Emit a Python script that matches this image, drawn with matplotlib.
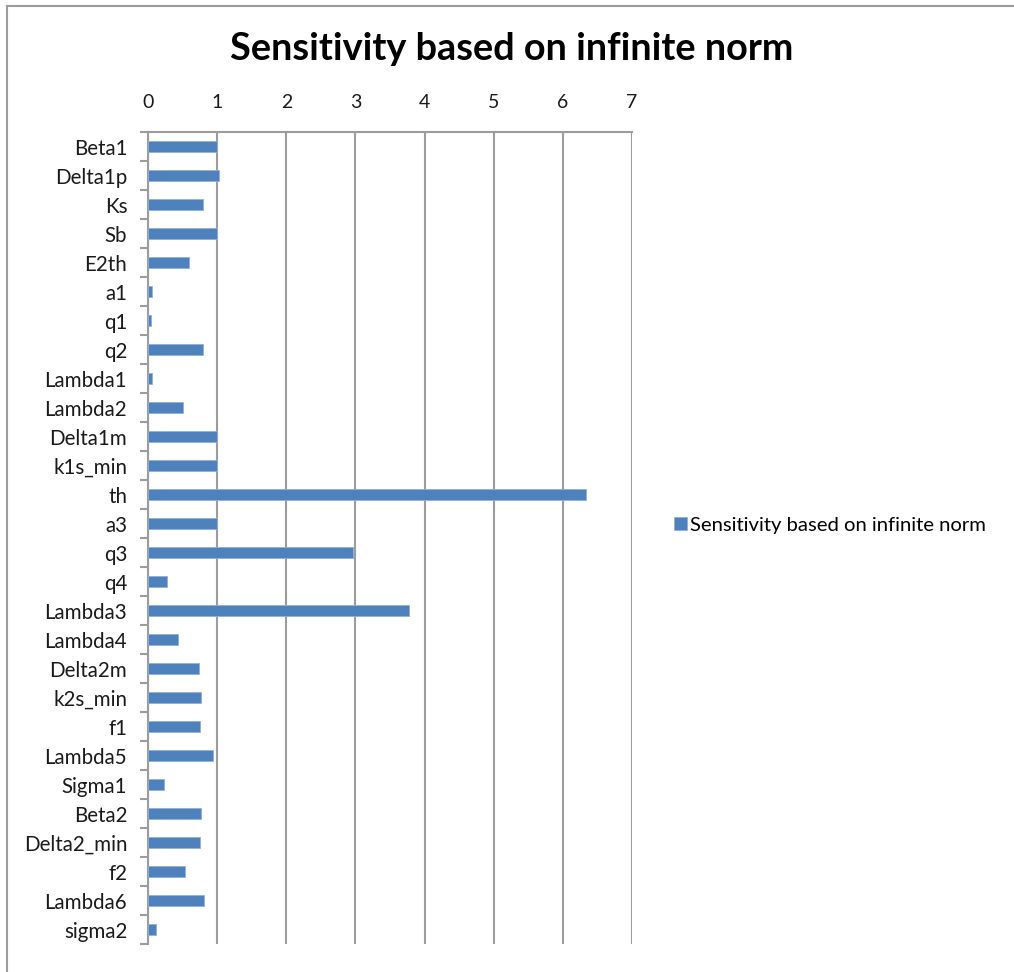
import numpy as np
import matplotlib.pyplot as plt
from matplotlib.lines import Line2D

params = ['Beta1', 'Delta1p', 'Ks', 'Sb', 'E2th', 'a1', 'q1', 'q2', 'Lambda1',
          'Lambda2', 'Delta1m', 'k1s_min', 'th', 'a3', 'q3', 'q4', 'Lambda3',
          'Lambda4', 'Delta2m', 'k2s_min', 'f1', 'Lambda5', 'Sigma1', 'Beta2',
          'Delta2_min', 'f2', 'Lambda6', 'sigma2']
sens = [1.0, 1.03, 0.79, 1.0, 0.60, 0.06, 0.04, 0.79, 0.06,
        0.50, 1.0, 1.0, 6.33, 1.0, 2.96, 0.28, 3.77,
        0.43, 0.74, 0.77, 0.75, 0.94, 0.23, 0.77,
        0.75, 0.53, 0.81, 0.11]
series_name = 'Sensitivity based on infinite norm'
xticks = [0, 1, 2, 3, 4, 5, 6, 7]

plt.rcParams['font.family'] = ['Lato', 'DejaVu Sans']

W, H = 1014, 972
fig = plt.figure(figsize=(W / 100, H / 100), dpi=100)

# chart area frame (top and left edges only)
grey = '#9c9c9c'
fig.add_artist(Line2D([7 / W, 1], [1 - 6 / H, 1 - 6 / H], color=grey, lw=1.5))
fig.add_artist(Line2D([7 / W, 7 / W], [0, 1 - 6 / H], color=grey, lw=1.5))

ax = fig.add_axes([148 / W, (H - 944) / H, (632 - 148) / W, (944 - 132) / H])

y = np.arange(len(params))
ax.barh(y, sens, height=0.41, color='#4f81bd', edgecolor='#8fb0da', linewidth=0.6,
        label=series_name, zorder=3)

txt = '#1a1a1a'
ax.set_xlim(0, 7)
ax.set_ylim(len(params) - 0.5, -0.5)
ax.set_xticks(xticks)
ax.xaxis.tick_top()
ax.tick_params(axis='x', length=0, labelsize=14, pad=15, labelcolor=txt)
ax.set_yticks(y)
ax.set_yticklabels(params)
ax.tick_params(axis='y', which='major', length=0, labelsize=14.8, pad=15, labelcolor=txt)
ax.set_yticks(np.arange(len(params) + 1) - 0.5, minor=True)
ax.tick_params(axis='y', which='minor', length=6, width=1.5, color=grey)

ax.grid(axis='x', color=grey, lw=1.5, zorder=0)
for side in ['right', 'bottom']:
    ax.spines[side].set_visible(False)
for side in ['top', 'left']:
    ax.spines[side].set_color(grey)
    ax.spines[side].set_linewidth(1.5)

fig.text(512 / W, 1 - 49 / H, 'Sensitivity based on infinite norm', ha='center', va='center',
         fontsize=27.3, fontweight='bold', color='black')

fig.legend(loc='center left', bbox_to_anchor=(656 / W, 1 - 525 / H), frameon=False,
           fontsize=14.6, handlelength=0.65, handleheight=0.65, handletextpad=0.15)

fig.savefig('out.png', dpi=100)
